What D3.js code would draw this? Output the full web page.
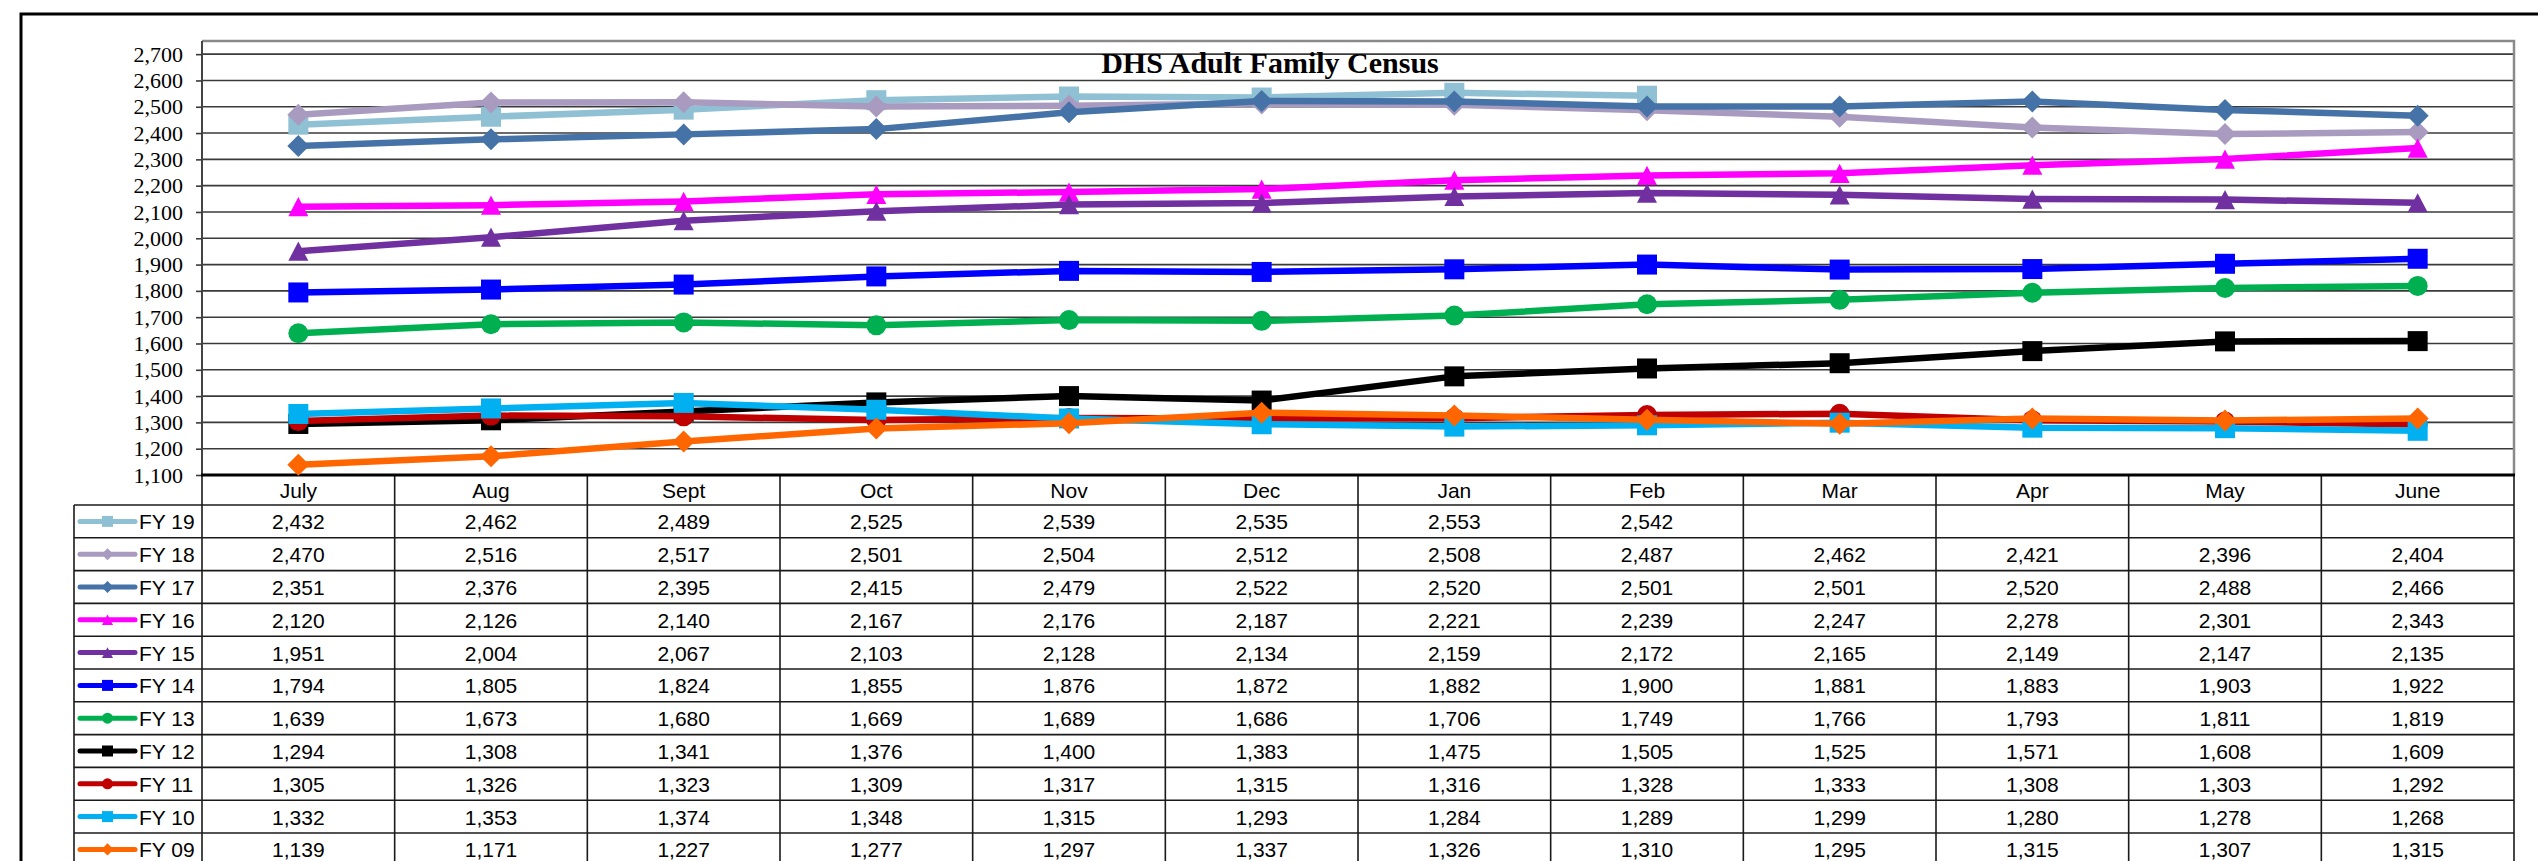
<!DOCTYPE html>
<html>
<head>
<meta charset="utf-8">
<script src="https://cdn.jsdelivr.net/npm/d3@7"></script>
<style>
  html, body { margin: 0; padding: 0; background: #fff; overflow: hidden; }
  svg { display: block; }
</style>
</head>
<body>
<svg id="chart" width="2538" height="861"></svg>
<script>
// ---- data ----
const months = ["July", "Aug", "Sept", "Oct", "Nov", "Dec", "Jan", "Feb", "Mar", "Apr", "May", "June"];
const seriesNames = ["FY 19", "FY 18", "FY 17", "FY 16", "FY 15", "FY 14", "FY 13", "FY 12", "FY 11", "FY 10", "FY 09"];

const fy19 = [2432, 2462, 2489, 2525, 2539, 2535, 2553, 2542, null, null, null, null];
const fy18 = [2470, 2516, 2517, 2501, 2504, 2512, 2508, 2487, 2462, 2421, 2396, 2404];
const fy17 = [2351, 2376, 2395, 2415, 2479, 2522, 2520, 2501, 2501, 2520, 2488, 2466];
const fy16 = [2120, 2126, 2140, 2167, 2176, 2187, 2221, 2239, 2247, 2278, 2301, 2343];
const fy15 = [1951, 2004, 2067, 2103, 2128, 2134, 2159, 2172, 2165, 2149, 2147, 2135];
const fy14 = [1794, 1805, 1824, 1855, 1876, 1872, 1882, 1900, 1881, 1883, 1903, 1922];
const fy13 = [1639, 1673, 1680, 1669, 1689, 1686, 1706, 1749, 1766, 1793, 1811, 1819];
const fy12 = [1294, 1308, 1341, 1376, 1400, 1383, 1475, 1505, 1525, 1571, 1608, 1609];
const fy11 = [1305, 1326, 1323, 1309, 1317, 1315, 1316, 1328, 1333, 1308, 1303, 1292];
const fy10 = [1332, 1353, 1374, 1348, 1315, 1293, 1284, 1289, 1299, 1280, 1278, 1268];
const fy09 = [1139, 1171, 1227, 1277, 1297, 1337, 1326, 1310, 1295, 1315, 1307, 1315];

const yTickValues = [1100, 1200, 1300, 1400, 1500, 1600, 1700, 1800, 1900, 2000,
                     2100, 2200, 2300, 2400, 2500, 2600, 2700];
const yMin = 1100, yMax = 2750;
const chartTitle = "DHS Adult Family Census";

// ---- styling per series ----
const seriesColors  = ["#8fc0d3", "#a99bc0", "#4572a7", "#ff00ff", "#7030a0", "#0000ff",
                       "#00b050", "#000000", "#c00000", "#00b0f0", "#ff6600"];
const seriesMarkers = ["square", "diamond", "diamond", "triangle", "triangle", "square",
                       "circle", "square", "circle", "square", "diamond"];

const seriesValues = [fy19, fy18, fy17, fy16, fy15, fy14, fy13, fy12, fy11, fy10, fy09];
const series = seriesNames.map((name, i) => ({
  name, values: seriesValues[i], color: seriesColors[i], marker: seriesMarkers[i]
}));

// ---- layout ----
const plot = { left: 202, right: 2514, top: 41, bottom: 475 };
const table = { keyLeft: 74, headerBottom: 505, rowH: 32.8 };
const serif = "'Liberation Serif', 'Times New Roman', serif";
const sans = "'Liberation Sans', Arial, sans-serif";

const svg = d3.select("#chart");

const x = d3.scaleBand().domain(months).range([plot.left, plot.right]).padding(0);
const xc = m => x(m) + x.bandwidth() / 2;
const y = d3.scaleLinear().domain([yMin, yMax]).range([plot.bottom, plot.top]);

// outer chart frame (runs past the bottom/right of the view)
svg.append("rect")
  .attr("x", 21).attr("y", 14)
  .attr("width", 2600).attr("height", 1000)
  .attr("fill", "none").attr("stroke", "#000").attr("stroke-width", 3);

// horizontal gridlines
svg.append("g").selectAll("line")
  .data(yTickValues.filter(v => v !== yMin))
  .join("line")
  .attr("x1", plot.left).attr("x2", plot.right)
  .attr("y1", d => y(d)).attr("y2", d => y(d))
  .attr("stroke", "#3a3a3a").attr("stroke-width", 1.6);

// plot area frame: top and right edges
svg.append("path")
  .attr("d", `M${plot.left},${plot.top}H${plot.right}V${plot.bottom}`)
  .attr("fill", "none").attr("stroke", "#8a8a8a").attr("stroke-width", 2.5);

// y axis with outside tick marks
const yAxis = d3.axisLeft(y)
  .tickValues(yTickValues)
  .tickFormat(d3.format(","))
  .tickSize(6)
  .tickPadding(13);
const yg = svg.append("g")
  .attr("transform", `translate(${plot.left},0)`)
  .call(yAxis);
yg.select(".domain")
  .attr("d", `M0,${plot.top}V${plot.bottom}`)
  .attr("stroke", "#444").attr("stroke-width", 2);
yg.selectAll(".tick line").attr("stroke", "#3a3a3a").attr("stroke-width", 1.6);
yg.selectAll(".tick text")
  .attr("fill", "#000")
  .style("font-family", serif)
  .style("font-size", "22px");

// data table grid
const nRows = series.length;
const tableBottom = table.headerBottom + nRows * table.rowH;
const grid = svg.append("g").attr("stroke", "#1a1a1a").attr("stroke-width", 1.6);

// column separators from the category axis down through the table
const colEdges = months.map(m => x(m)).concat([plot.right]);
grid.selectAll("line.col")
  .data(colEdges)
  .join("line")
  .attr("class", "col")
  .attr("x1", d => d).attr("x2", d => d)
  .attr("y1", plot.bottom).attr("y2", tableBottom);

// row separators
const rowEdges = d3.range(nRows + 1).map(i => table.headerBottom + i * table.rowH);
grid.selectAll("line.row")
  .data(rowEdges)
  .join("line")
  .attr("class", "row")
  .attr("x1", table.keyLeft).attr("x2", plot.right)
  .attr("y1", d => d).attr("y2", d => d);

// left edge of the legend-key column
grid.append("line")
  .attr("x1", table.keyLeft).attr("x2", table.keyLeft)
  .attr("y1", table.headerBottom).attr("y2", tableBottom);

// category axis line
svg.append("line")
  .attr("x1", plot.left - 1).attr("x2", plot.right + 1)
  .attr("y1", plot.bottom).attr("y2", plot.bottom)
  .attr("stroke", "#000").attr("stroke-width", 3);

// category labels
svg.append("g").selectAll("text")
  .data(months)
  .join("text")
  .attr("x", d => xc(d))
  .attr("y", plot.bottom + 23)
  .attr("text-anchor", "middle")
  .style("font-family", sans)
  .style("font-size", "21px")
  .attr("fill", "#000")
  .text(d => d);

// marker shapes, each centred on its bounding box; size = box width in px
const boxTriangle = {
  draw(ctx, w) {
    const h = w * 0.96;
    ctx.moveTo(0, -h / 2);
    ctx.lineTo(w / 2, h / 2);
    ctx.lineTo(-w / 2, h / 2);
    ctx.closePath();
  }
};
const boxDiamond = {
  draw(ctx, w) {
    const r = w / 2;
    ctx.moveTo(0, -r);
    ctx.lineTo(r, 0);
    ctx.lineTo(0, r);
    ctx.lineTo(-r, 0);
    ctx.closePath();
  }
};
function symbolFor(kind, w) {
  switch (kind) {
    case "square":   return d3.symbol(d3.symbolSquare, w * w);
    case "circle":   return d3.symbol(d3.symbolCircle, Math.PI * w * w / 4);
    case "triangle": return d3.symbol(boxTriangle, w);
    case "diamond":  return d3.symbol(boxDiamond, w * 1.1);
  }
}

const line = d3.line()
  .defined(d => d.v != null)
  .x(d => xc(d.m))
  .y(d => y(d.v));

// series lines and markers, first series drawn first
const seriesG = svg.append("g");
series.forEach(s => {
  const pts = s.values.map((v, i) => ({ m: months[i], v }));
  const g = seriesG.append("g");
  g.append("path")
    .datum(pts)
    .attr("d", line)
    .attr("fill", "none")
    .attr("stroke", s.color)
    .attr("stroke-width", 6.5)
    .attr("stroke-linejoin", "round");
  g.selectAll("path.mk")
    .data(pts.filter(d => d.v != null))
    .join("path")
    .attr("class", "mk")
    .attr("d", symbolFor(s.marker, 20))
    .attr("transform", d => `translate(${xc(d.m)},${y(d.v)})`)
    .attr("fill", s.color);
});

// table rows: legend key, series label, values
const rowsG = svg.append("g");
series.forEach((s, i) => {
  const top = table.headerBottom + i * table.rowH;
  const mid = top + table.rowH / 2;
  const r = rowsG.append("g");
  r.append("line")
    .attr("x1", 80).attr("x2", 135)
    .attr("y1", mid).attr("y2", mid)
    .attr("stroke", s.color).attr("stroke-width", 5)
    .attr("stroke-linecap", "round");
  r.append("path")
    .attr("d", symbolFor(s.marker, 11))
    .attr("transform", `translate(107.5,${mid})`)
    .attr("fill", s.color);
  r.append("text")
    .attr("x", 139).attr("y", top + 24.3)
    .style("font-family", sans).style("font-size", "21px")
    .attr("fill", "#000")
    .text(s.name);
  r.selectAll("text.val")
    .data(s.values.map((v, j) => ({ m: months[j], v })))
    .join("text")
    .attr("class", "val")
    .attr("x", d => xc(d.m))
    .attr("y", top + 24.3)
    .attr("text-anchor", "middle")
    .style("font-family", sans).style("font-size", "21px")
    .attr("fill", "#000")
    .text(d => d.v == null ? "" : d3.format(",")(d.v));
});

// title
svg.append("text")
  .attr("x", 1270).attr("y", 73)
  .attr("text-anchor", "middle")
  .style("font-family", serif)
  .style("font-size", "30px")
  .style("font-weight", "bold")
  .attr("fill", "#000")
  .text(chartTitle);
</script>
</body>
</html>
